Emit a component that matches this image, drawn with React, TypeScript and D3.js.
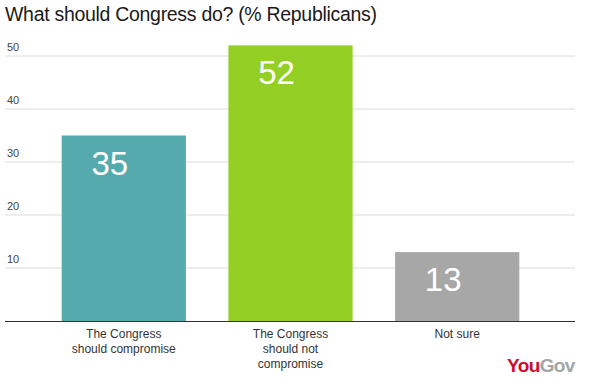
import React from 'react';
import { scaleBand, scaleLinear } from 'd3';

const categories = [
  ['The Congress', 'should compromise'],
  ['The Congress', 'should not', 'compromise'],
  ['Not sure'],
];
const values = [35, 52, 13];
const barColors = ['#55aaad', '#93cf25', '#a7a7a8'];
const yTicks = [10, 20, 30, 40, 50];

const width = 599;
const height = 386;
const left = 5;
const right = 576;
const baseline = 321;
const top = 56;

const App = () => {
  const x = scaleBand<number>()
    .domain(values.map((v, i) => i))
    .range([left, right])
    .paddingInner(0.255)
    .paddingOuter(0.34);

  const y = scaleLinear().domain([0, 50]).range([baseline, top]);

  return (
    <svg
      width={width}
      height={height}
      style={{ position: 'absolute', left: 0, top: 0, background: '#fff' }}
      fontFamily="'Liberation Sans', Arial, sans-serif"
    >
      <text x={5} y={21} fontSize={19.5} letterSpacing={-0.3} fill="#1a1a1a">
        What should Congress do? (% Republicans)
      </text>

      {yTicks.map(t => (
        <g key={t}>
          <line x1={left} x2={575} y1={y(t)} y2={y(t)} stroke="#dcdcdc" />
          <text x={7} y={y(t) - 5} fontSize={11} fill="#444">{t}</text>
        </g>
      ))}

      {values.map((v, i) => (
        <g key={i}>
          <rect
            x={x(i)}
            y={y(v)}
            width={x.bandwidth()}
            height={baseline - y(v)}
            fill={barColors[i]}
          />
          <text
            x={(x(i) as number) + x.bandwidth() / 2 - 14}
            y={y(v) + 39}
            fontSize={33}
            fill="#fff"
            textAnchor="middle"
          >
            {v}
          </text>
          {categories[i].map((line, j) => (
            <text
              key={j}
              x={(x(i) as number) + x.bandwidth() / 2}
              y={338 + j * 15}
              fontSize={12}
              fill="#333"
              textAnchor="middle"
            >
              {line}
            </text>
          ))}
        </g>
      ))}

      <line x1={left} x2={575} y1={baseline + 0.5} y2={baseline + 0.5} stroke="#333" />

      <text x={507} y={372} fontSize={19} fontWeight="bold" letterSpacing={-0.6}>
        <tspan fill="#c8102e">You</tspan>
        <tspan fill="#a5a5a5">Gov</tspan>
      </text>
    </svg>
  );
};

export default App;
